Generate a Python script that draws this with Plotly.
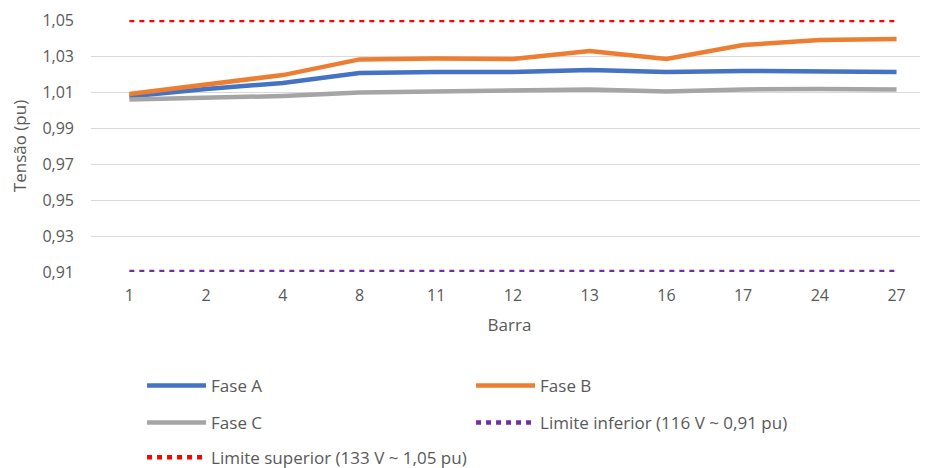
import plotly.graph_objects as go

barras = ["1", "2", "4", "8", "11", "12", "13", "16", "17", "24", "27"]
fase_a = [1.0075, 1.0117, 1.0150, 1.0206, 1.0211, 1.0211, 1.0222, 1.0211, 1.0217, 1.0211, 1.0211]
fase_b = [1.0089, 1.0142, 1.0194, 1.0281, 1.0286, 1.0283, 1.0328, 1.0283, 1.0361, 1.0389, 1.0394]
fase_c = [1.0058, 1.0067, 1.0078, 1.0097, 1.0103, 1.0103, 1.0114, 1.0103, 1.0114, 1.0117, 1.0114]
lim_inf = [0.91] * len(barras)
lim_sup = [1.05] * len(barras)
y_ticks = [0.91, 0.93, 0.95, 0.97, 0.99, 1.01, 1.03, 1.05]
y_tick_labels = ["0,91", "0,93", "0,95", "0,97", "0,99", "1,01", "1,03", "1,05"]

FONT = "Open Sans"
TXT = "#595959"

fig = go.Figure()
fig.add_trace(go.Scatter(x=barras, y=fase_a, mode="lines", name="Fase A",
                         line=dict(color="#4472C4", width=4.5), legend="legend"))
fig.add_trace(go.Scatter(x=barras, y=fase_b, mode="lines", name="Fase B",
                         line=dict(color="#ED7D31", width=4.5), legend="legend"))
fig.add_trace(go.Scatter(x=barras, y=fase_c, mode="lines", name="Fase C",
                         line=dict(color="#A5A5A5", width=4.5), legend="legend2"))
fig.add_trace(go.Scatter(x=barras, y=lim_inf, mode="lines", name="Limite inferior (116 V ~ 0,91 pu)",
                         line=dict(color="#7030A0", width=4.5, dash="5px,5px"), legend="legend2"))
fig.add_trace(go.Scatter(x=barras, y=lim_sup, mode="lines", name="Limite superior (133 V ~ 1,05 pu)",
                         line=dict(color="#FF0000", width=4.5, dash="5px,5px"), legend="legend3"))

leg_common = dict(orientation="h", xanchor="left", yanchor="middle", x=0.061,
                  font=dict(family=FONT, size=17, color=TXT), itemwidth=59,
                  entrywidth=255, bgcolor="rgba(0,0,0,0)", traceorder="normal")

fig.update_layout(
    width=920, height=460,
    margin=dict(l=83, r=0, t=12, b=196, autoexpand=False),
    plot_bgcolor="white", paper_bgcolor="white",
    font=dict(family=FONT, size=16, color=TXT),
    showlegend=True,
    legend=dict(y=-0.452, **leg_common),
    legend2=dict(y=-0.599, **leg_common),
    legend3=dict(y=-0.737, **leg_common),
    xaxis=dict(type="category", range=[-0.5, 10.41], showgrid=False,
               showline=False, zeroline=False, ticks="",
               ticklabelstandoff=12, automargin=False,
               tickfont=dict(family=FONT, size=16, color=TXT),
               title=dict(text="Barra", standoff=14, font=dict(family=FONT, size=17, color=TXT))),
    yaxis=dict(range=[0.91, 1.05], tickvals=y_ticks, ticktext=y_tick_labels,
               showgrid=True, gridcolor="#D9D9D9", gridwidth=1,
               zeroline=False, showline=False, ticks="", automargin=False,
               ticklabelstandoff=16,
               tickfont=dict(family=FONT, size=16, color=TXT),
               title=dict(text="Tensão (pu)", standoff=12, font=dict(family=FONT, size=17, color=TXT))),
)

fig.write_html("out.html")
